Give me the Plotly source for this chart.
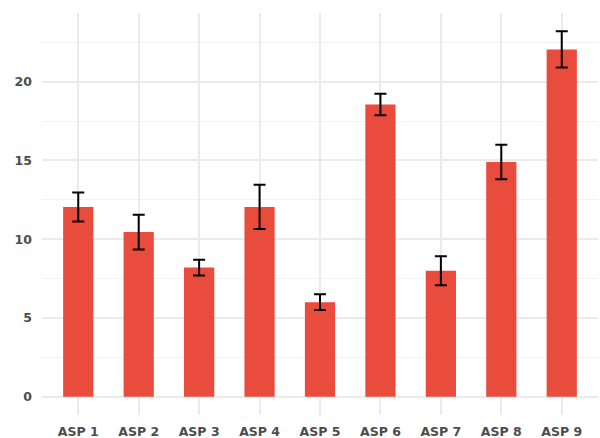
import plotly.graph_objects as go

categories = ["ASP 1", "ASP 2", "ASP 3", "ASP 4", "ASP 5", "ASP 6", "ASP 7", "ASP 8", "ASP 9"]
means = [12.05, 10.45, 8.2, 12.05, 6.0, 18.55, 8.0, 14.9, 22.05]
errors = [0.92, 1.1, 0.5, 1.4, 0.5, 0.68, 0.92, 1.09, 1.15]

bar_color = "#E94B3C"
grid_color = "#EBEBEB"
text_color = "#4D4D4D"

fig = go.Figure(
    go.Bar(
        x=categories,
        y=means,
        width=0.5,
        marker=dict(color=bar_color, line=dict(width=0)),
        error_y=dict(type="data", array=errors, visible=True,
                     color="black", thickness=2, width=6),
    )
)

tick_font = dict(family="DejaVu Sans", size=12.5, color=text_color, weight="bold")

fig.update_layout(
    width=600, height=438,
    margin=dict(l=42, r=2, t=13, b=23, autoexpand=False),
    paper_bgcolor="white", plot_bgcolor="white",
    showlegend=False,
    font=tick_font,
)
fig.update_xaxes(
    range=[-0.6, 8.6],
    showgrid=True, gridcolor=grid_color, gridwidth=1.6,
    showline=False, zeroline=False, ticks="",
    tickfont=tick_font,
    ticklabelstandoff=7,
)
fig.update_yaxes(
    range=[-1.16, 24.36],
    tickvals=[0, 5, 10, 15, 20],
    showgrid=True, gridcolor=grid_color, gridwidth=1.6,
    minor=dict(tickvals=[2.5, 7.5, 12.5, 17.5, 22.5], showgrid=True,
               gridcolor="#F2F2F2", gridwidth=1),
    showline=False, zeroline=False, ticks="",
    tickfont=tick_font,
    ticklabelstandoff=9,
)

fig.write_html("out.html", config={"displayModeBar": False},
               post_script="document.body.style.margin='0';")
